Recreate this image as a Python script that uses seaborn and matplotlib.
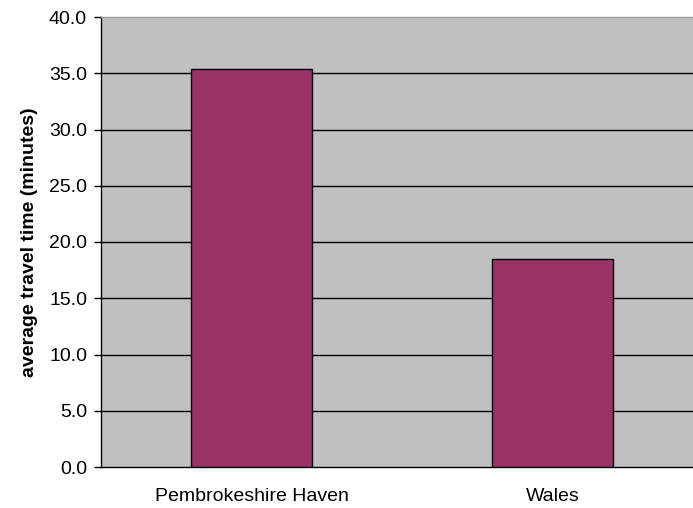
import matplotlib
matplotlib.use("Agg")
import matplotlib.pyplot as plt
import seaborn as sns
import pandas as pd

categories = ["Pembrokeshire Haven", "Wales"]
values = [35.4, 18.5]
yticks = [0, 5, 10, 15, 20, 25, 30, 35, 40]

sns.set_style("white")
plt.rcParams['font.family'] = ['Liberation Sans', 'DejaVu Sans']
plt.rcParams['text.color'] = 'black'
plt.rcParams['axes.labelcolor'] = 'black'
plt.rcParams['xtick.color'] = 'black'
plt.rcParams['ytick.color'] = 'black'

df = pd.DataFrame({"area": categories, "time": values})

fig = plt.figure(figsize=(6.93, 5.08), dpi=100)
ax = fig.add_axes([101/693, 1-467/508, 602/693, 450/508])
ax.set_facecolor("#C0C0C0")

sns.barplot(data=df, x="area", y="time", color="#993366", width=0.4,
            edgecolor="black", linewidth=1, saturation=1, ax=ax, zorder=3)

ax.set_ylim(0, 40)
ax.set_xlim(-0.5, 1.5)
ax.set_yticks(yticks)
ax.set_yticklabels([f"{v:.1f}" for v in yticks], fontsize=14, color="black")
for v in yticks[1:-1]:
    ax.axhline(v, color="black", linewidth=1, zorder=1)

ax.set_xticks([0, 1])
ax.set_xticklabels(categories, fontsize=14, color="black")
ax.tick_params(axis='x', which='major', length=0, pad=15)
ax.set_xticks([-0.5, 0.5, 1.5], minor=True)
ax.tick_params(axis='x', which='minor', length=5, width=1, color='black', direction='out')
ax.tick_params(axis='y', length=5, width=1, color='black', direction='out', left=True, pad=5)

ax.set_xlabel("")
ax.set_ylabel("average travel time (minutes)", fontsize=14, fontweight='bold',
              labelpad=8, color="black")

for s in ["left", "bottom"]:
    ax.spines[s].set_color("black")
    ax.spines[s].set_linewidth(1)
ax.spines["top"].set_color("#999999")
ax.spines["top"].set_linewidth(1)
ax.spines["right"].set_visible(False)

fig.savefig("out.png", dpi=100)
